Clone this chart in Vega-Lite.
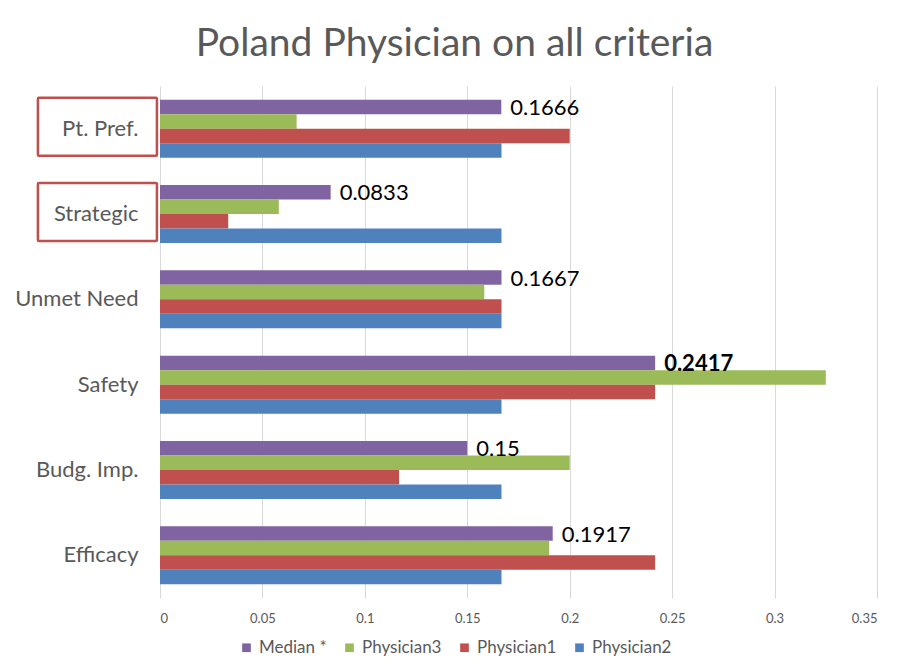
{
  "$schema": "https://vega.github.io/schema/vega-lite/v6.json",
  "autosize": {"type": "none"},
  "width": 717,
  "height": 512,
  "padding": {"left": 160, "top": 86, "right": 22, "bottom": 71},
  "background": "white",
  "title": {
    "text": "Poland Physician on all criteria",
    "fontSize": 39,
    "font": "Lato",
    "fontWeight": "normal",
    "color": "#595959",
    "anchor": "middle",
    "dx": -64,
    "offset": 22
  },
  "datasets": {
    "bars": [
      {"category": "Pt. Pref.", "series": "Median *", "value": 0.1666},
      {"category": "Pt. Pref.", "series": "Physician3", "value": 0.0667},
      {"category": "Pt. Pref.", "series": "Physician1", "value": 0.2},
      {"category": "Pt. Pref.", "series": "Physician2", "value": 0.1667},
      {"category": "Strategic", "series": "Median *", "value": 0.0833},
      {"category": "Strategic", "series": "Physician3", "value": 0.058},
      {"category": "Strategic", "series": "Physician1", "value": 0.0333},
      {"category": "Strategic", "series": "Physician2", "value": 0.1667},
      {"category": "Unmet Need", "series": "Median *", "value": 0.1667},
      {"category": "Unmet Need", "series": "Physician3", "value": 0.1583},
      {"category": "Unmet Need", "series": "Physician1", "value": 0.1667},
      {"category": "Unmet Need", "series": "Physician2", "value": 0.1667},
      {"category": "Safety", "series": "Median *", "value": 0.2417},
      {"category": "Safety", "series": "Physician3", "value": 0.325},
      {"category": "Safety", "series": "Physician1", "value": 0.2417},
      {"category": "Safety", "series": "Physician2", "value": 0.1667},
      {"category": "Budg. Imp.", "series": "Median *", "value": 0.15},
      {"category": "Budg. Imp.", "series": "Physician3", "value": 0.2},
      {"category": "Budg. Imp.", "series": "Physician1", "value": 0.1167},
      {"category": "Budg. Imp.", "series": "Physician2", "value": 0.1667},
      {"category": "Efficacy", "series": "Median *", "value": 0.1917},
      {"category": "Efficacy", "series": "Physician3", "value": 0.19},
      {"category": "Efficacy", "series": "Physician1", "value": 0.2417},
      {"category": "Efficacy", "series": "Physician2", "value": 0.1667}
    ],
    "boxes": [
      {"category": "Pt. Pref.", "x0": -0.0596, "x1": -0.0015},
      {"category": "Strategic", "x0": -0.0596, "x1": -0.0015}
    ]
  },
  "encoding": {
    "y": {
      "field": "category",
      "type": "nominal",
      "sort": ["Pt. Pref.", "Strategic", "Unmet Need", "Safety", "Budg. Imp.", "Efficacy"],
      "scale": {"paddingInner": 0.32, "paddingOuter": 0.16},
      "axis": {
        "title": null,
        "domain": false,
        "ticks": false,
        "grid": false,
        "labelFont": "Lato",
        "labelFontSize": 22,
        "labelColor": "#595959",
        "labelPadding": 22
      }
    }
  },
  "layer": [
    {
      "data": {"name": "bars"},
      "mark": {"type": "bar"},
      "encoding": {
        "x": {
          "field": "value",
          "type": "quantitative",
          "scale": {"domain": [0, 0.35], "nice": false},
          "axis": {
            "title": null,
            "values": [0, 0.05, 0.1, 0.15, 0.2, 0.25, 0.3, 0.35],
            "format": "~g",
            "domain": false,
            "ticks": false,
            "grid": true,
            "gridColor": "#d9d9d9",
            "gridWidth": 1,
            "labelFont": "Lato",
            "labelFontSize": 13,
            "labelColor": "#595959",
            "labelPadding": 14
          }
        },
        "yOffset": {
          "field": "series",
          "type": "nominal",
          "sort": ["Median *", "Physician3", "Physician1", "Physician2"],
          "scale": {"paddingInner": 0, "paddingOuter": 0}
        },
        "color": {
          "field": "series",
          "type": "nominal",
          "sort": ["Median *", "Physician3", "Physician1", "Physician2"],
          "scale": {
            "domain": ["Median *", "Physician3", "Physician1", "Physician2"],
            "range": ["#8064A2", "#9BBB59", "#C0504D", "#4F81BD"]
          },
          "legend": {
            "title": null,
            "orient": "none",
            "direction": "horizontal",
            "legendX": 78,
            "legendY": 553,
            "symbolType": "square",
            "symbolSize": 75,
            "symbolStrokeWidth": 0,
            "labelFont": "Lato",
            "labelFontSize": 17,
            "labelColor": "#595959",
            "columnPadding": 14,
            "labelOffset": 4
          }
        }
      }
    },
    {
      "data": {"name": "bars"},
      "transform": [{"filter": "datum.series === 'Median *' && datum.category !== 'Safety'"}],
      "mark": {"type": "text", "align": "left", "baseline": "middle", "dx": 9, "dy": 1, "font": "Lato", "fontSize": 22, "color": "#000000"},
      "encoding": {
        "x": {"field": "value", "type": "quantitative"},
        "yOffset": {"field": "series", "type": "nominal", "sort": ["Median *", "Physician3", "Physician1", "Physician2"]},
        "text": {"field": "value", "type": "quantitative", "format": "~g"}
      }
    },
    {
      "data": {"name": "bars"},
      "transform": [{"filter": "datum.series === 'Median *' && datum.category === 'Safety'"}],
      "mark": {"type": "text", "align": "left", "baseline": "middle", "dx": 9, "dy": 1, "font": "Lato", "fontSize": 22, "fontWeight": "bold", "color": "#000000"},
      "encoding": {
        "x": {"field": "value", "type": "quantitative"},
        "yOffset": {"field": "series", "type": "nominal", "sort": ["Median *", "Physician3", "Physician1", "Physician2"]},
        "text": {"field": "value", "type": "quantitative", "format": "~g"}
      }
    },
    {
      "data": {"name": "boxes"},
      "mark": {"type": "rect", "fill": null, "fillOpacity": 0, "stroke": "#C0504D", "strokeWidth": 2.5, "cornerRadius": 1, "yOffset": -2, "y2Offset": -6},
      "encoding": {
        "x": {"field": "x0", "type": "quantitative"},
        "x2": {"field": "x1"}
      }
    }
  ],
  "config": {
    "view": {"stroke": null}
  }
}
